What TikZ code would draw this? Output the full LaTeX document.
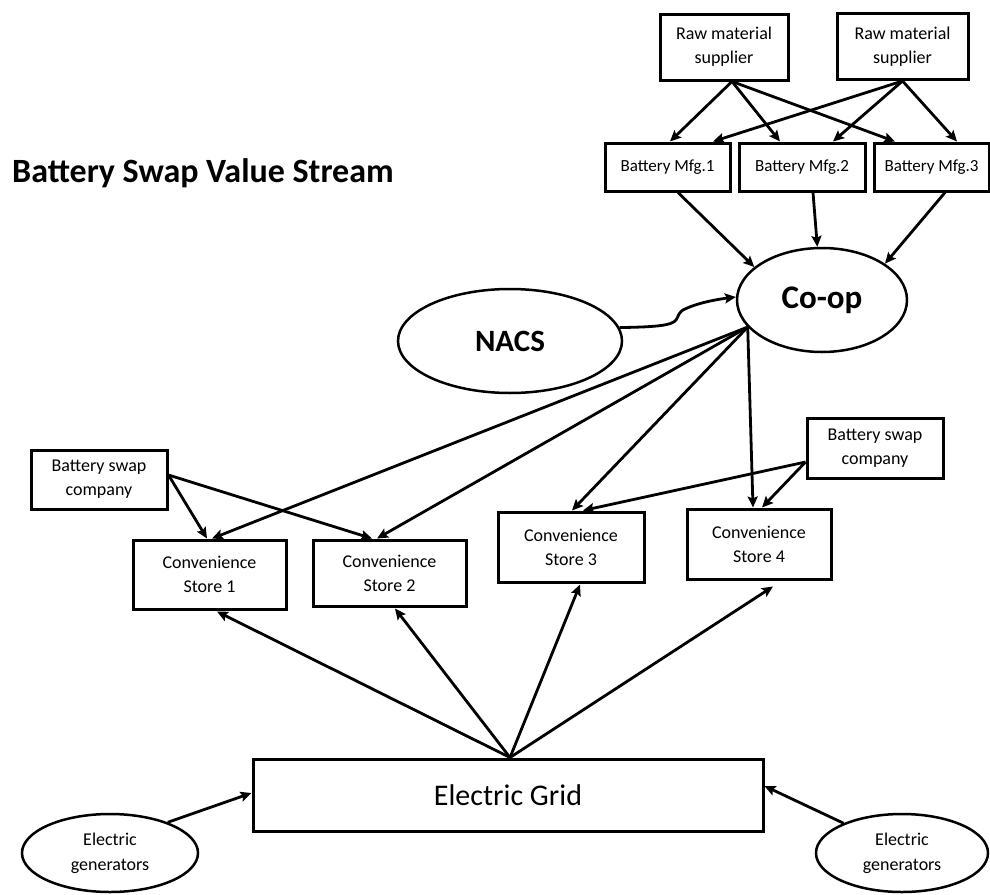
\documentclass[tikz,border=0pt]{standalone}
\usepackage{fontspec}
\setmainfont{Carlito}
\usetikzlibrary{arrows.meta,shapes.geometric,calc}
\begin{document}
\begin{tikzpicture}[x=1pt,y=-1pt,
  box/.style={draw, line width=3pt, inner sep=0pt, align=center, font=\fontsize{18}{24}\selectfont},
  mfg/.style={box, font=\fontsize{17}{22}\selectfont},
  ell/.style={ellipse, draw, line width=2.5pt, inner sep=0pt, align=center},
  arr/.style={line width=2.8pt, -{Stealth[length=11pt,width=10pt,inset=2pt]}}]
\useasboundingbox (0,0) rectangle (990,894);

\node[anchor=base west, inner sep=0pt, font=\bfseries\fontsize{34}{38}\selectfont] (title) at (12,182) {Battery Swap Value Stream};

\node[box, minimum width=128pt, minimum height=66pt] (rms1) at (724,47) {Raw material\\supplier};
\node[box, minimum width=131pt, minimum height=66pt] (rms2) at (902.5,46.5) {Raw material\\supplier};

\node[mfg, minimum width=125pt, minimum height=48pt] (bm1) at (667.5,167) {Battery Mfg.1};
\node[mfg, minimum width=126pt, minimum height=48pt] (bm2) at (802,167) {Battery Mfg.2};
\node[mfg, minimum width=115pt, minimum height=48pt] (bm3) at (931.5,167) {Battery Mfg.3};

\node[ell, minimum width=170pt, minimum height=104pt, font=\bfseries\fontsize{33}{36}\selectfont] (coop) at (822,300) {Co-op};
\node[ell, minimum width=224pt, minimum height=104pt, font=\bfseries\fontsize{31}{34}\selectfont] (nacs) at (510,341) {NACS};

\node[box, minimum width=136pt, minimum height=59pt] (bscL) at (99,479.5) {Battery swap\\company};
\node[box, minimum width=136pt, minimum height=60pt] (bscR) at (875,448) {Battery swap\\company};

\node[box, minimum width=153pt, minimum height=69pt] (cs1) at (209.5,574.5) {Convenience\\Store 1};
\node[box, minimum width=153pt, minimum height=66pt] (cs2) at (389.5,573) {Convenience\\Store 2};
\node[box, minimum width=146pt, minimum height=70pt] (cs3) at (571,547) {Convenience\\Store 3};
\node[box, minimum width=144pt, minimum height=70pt] (cs4) at (759,544) {Convenience\\Store 4};

\node[box, minimum width=510pt, minimum height=72pt, font=\fontsize{30}{34}\selectfont] (grid) at (508,795) {Electric Grid};

\node[ell, minimum width=176pt, minimum height=78pt, font=\fontsize{18}{25}\selectfont] (genL) at (110,853) {Electric\\generators};
\node[ell, minimum width=172pt, minimum height=78pt, font=\fontsize{18}{25}\selectfont] (genR) at (902,853) {Electric\\generators};

% raw material -> manufacturers
\draw[arr] ([xshift=8pt]rms1.south) -- ([xshift=2.5pt]bm1.north);
\draw[arr] ([xshift=8pt]rms1.south) -- ([xshift=-22pt]bm2.north);
\draw[arr] ([xshift=8pt]rms1.south) -- ([xshift=-36.5pt]bm3.north);
\draw[arr] (rms2.south) -- ([xshift=45.5pt]bm1.north);
\draw[arr] (rms2.south) -- ([xshift=31pt]bm2.north);
\draw[arr] (rms2.south) -- ([xshift=25.5pt]bm3.north);

% manufacturers -> co-op
\draw[arr] ([xshift=10.5pt]bm1.south) -- (coop.154);
\draw[arr] ([xshift=11pt]bm2.south) -- (coop.95);
\draw[arr] ([xshift=13.5pt]bm3.south) -- (coop.30);

% NACS -> co-op (with line hop)
\draw[arr] (nacs.7) .. controls (660,327) and (672,325) .. (676,320)
  .. controls (679,316) and (678,312) .. (685,309)
  .. controls (700,302) and (720,299) .. (coop.178);

% co-op -> stores
\draw[arr] (coop.200) -- ([xshift=2.5pt]cs1.north);
\draw[arr] (coop.200) -- ([xshift=-12.5pt]cs2.north);
\draw[arr] (coop.200) -- ([xshift=1pt]cs3.north);
\draw[arr] (coop.200) -- ([xshift=-6pt]cs4.north);

% battery swap companies -> stores
\draw[arr] ([yshift=4.5pt]bscL.east) -- ([xshift=-2.5pt]cs1.north);
\draw[arr] ([yshift=4.5pt]bscL.east) -- ([xshift=-17.5pt]cs2.north);
\draw[arr] ([yshift=-14pt]bscR.west) -- ([xshift=12pt]cs3.north);
\draw[arr] ([yshift=-14pt]bscR.west) -- ([xshift=3pt]cs4.north);

% grid -> stores
\draw[arr] ([xshift=2pt]grid.north) -- ([xshift=7.5pt,yshift=-1pt]cs1.south);
\draw[arr] ([xshift=2pt]grid.north) -- ([xshift=5.5pt,yshift=-1pt]cs2.south);
\draw[arr] ([xshift=2pt]grid.north) -- ([xshift=9pt,yshift=-1pt]cs3.south);
\draw[arr] ([xshift=2pt]grid.north) -- ([xshift=14pt,yshift=-6pt]cs4.south);

% generators -> grid
\draw[arr] (genL.28) -- ([yshift=2pt]grid.west);
\draw[arr] (genR.153) -- ([yshift=9pt]grid.east);
\end{tikzpicture}
\end{document}
